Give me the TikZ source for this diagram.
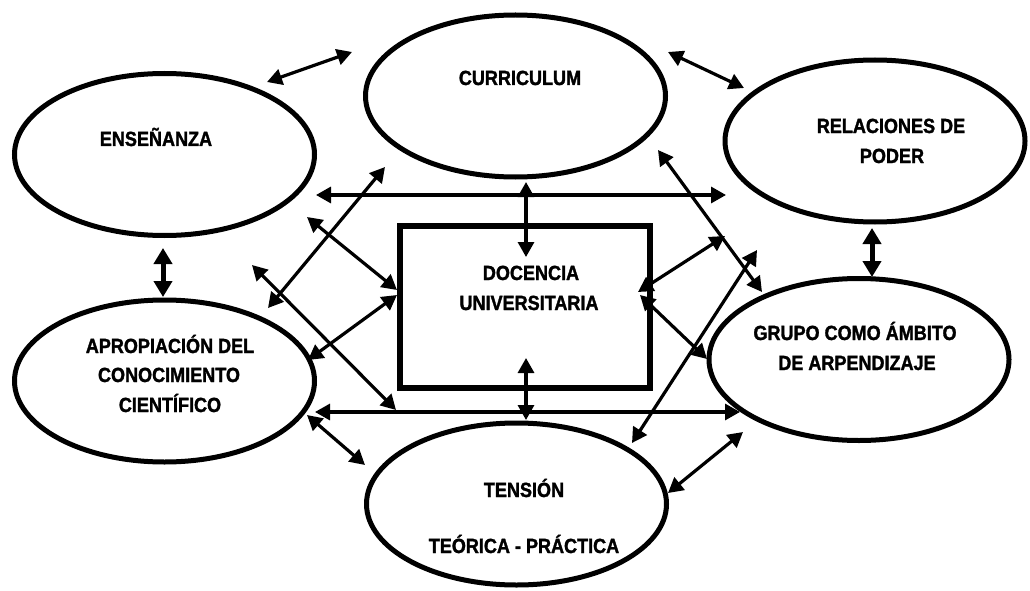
\documentclass[tikz,border=0pt]{standalone}
\usepackage{fontspec}
\newfontfamily\lblfont{Liberation Sans Bold}[FakeStretch=0.88, FakeBold=1.5]
\usetikzlibrary{arrows.meta,shapes.geometric}
\begin{document}
\begin{tikzpicture}[x=1pt,y=-1pt,
  oval/.style={draw, ellipse, line width=5pt, minimum width=300pt, minimum height=162pt, inner sep=0pt},
  box/.style={draw, rectangle, line width=6pt, minimum width=250pt, minimum height=162.5pt, inner sep=0pt},
  lbl/.style={anchor=base, inner sep=0pt, font=\lblfont\fontsize{20.5}{24}\selectfont},
  link/.style={line width=3.2pt, {Triangle[length=15pt,width=16pt]}-{Triangle[length=15pt,width=16pt]}},
  biglink/.style={line width=5pt, {Triangle[length=16pt,width=18pt]}-{Triangle[length=16pt,width=18pt]}}]
\useasboundingbox[fill=white] (0,0) rectangle (1030,591);

% shapes
\node[oval] (ens) at (164.5,154.5) {};
\node[oval] (cur) at (515.5,96) {};
\node[oval] (rel) at (875,141) {};
\node[oval] (gru) at (859,359.5) {};
\node[oval] (apr) at (164.5,381) {};
\node[oval] (ten) at (516.5,504) {};
\node[box] (doc) at (525,307) {};

% labels
\node[lbl] (tens) at (156,146) {ENSEÑANZA};
\node[lbl] (tcur) at (520,85) {CURRICULUM};
\node[lbl] (trel1) at (891,133) {RELACIONES DE};
\node[lbl] (trel2) at (892,163) {PODER};
\node[lbl] (tgru1) at (855,340) {GRUPO COMO ÁMBITO};
\node[lbl] (tgru2) at (857,370) {DE ARPENDIZAJE};
\node[lbl] (tapr1) at (170,353) {APROPIACIÓN DEL};
\node[lbl] (tapr2) at (169,382) {CONOCIMIENTO};
\node[lbl] (tapr3) at (170,412) {CIENTÍFICO};
\node[lbl] (tten1) at (524,497) {TENSIÓN};
\node[lbl] (tten2) at (524,553) {TEÓRICA - PRÁCTICA};
\node[lbl] (tdoc1) at (531,280) {DOCENCIA};
\node[lbl] (tdoc2) at (529,310) {UNIVERSITARIA};

% connector end points
\coordinate (a1s) at (267,82);   \coordinate (a1e) at (352,52);
\coordinate (a2s) at (668,52);   \coordinate (a2e) at (744,88);
\coordinate (a3s) at (163,248);  \coordinate (a3e) at (163,297);
\coordinate (a4s) at (872,228);  \coordinate (a4e) at (872,277);
\coordinate (a5s) at (316,195);  \coordinate (a5e) at (726,195);
\coordinate (a6s) at (315,412);  \coordinate (a6e) at (740,412);
\coordinate (a7s) at (526,182);  \coordinate (a7e) at (526,257);
\coordinate (a8s) at (526,358);  \coordinate (a8e) at (526,420);
\coordinate (a9s) at (268,308);  \coordinate (a9e) at (385,167);
\coordinate (a10s) at (307,217); \coordinate (a10e) at (397,290);
\coordinate (a11s) at (252,265); \coordinate (a11e) at (396,410);
\coordinate (a12s) at (397,295); \coordinate (a12e) at (308,360);
\coordinate (a13s) at (658,150); \coordinate (a13e) at (762,292);
\coordinate (a14s) at (638,292); \coordinate (a14e) at (725,236);
\coordinate (a15s) at (640,295); \coordinate (a15e) at (707,359);
\coordinate (a16s) at (632,443); \coordinate (a16e) at (757,250);
\coordinate (a17s) at (307,415); \coordinate (a17e) at (365,465);
\coordinate (a18s) at (668,493); \coordinate (a18e) at (743,432);

% connectors
\draw[link] (a1s) -- (a1e);
\draw[link] (a2s) -- (a2e);
\draw[biglink] (a3s) -- (a3e);
\draw[biglink] (a4s) -- (a4e);
\draw[link] (a5s) -- (a5e);
\draw[link] (a6s) -- (a6e);
\draw[link] (a7s) -- (a7e);
\draw[link] (a8s) -- (a8e);
\draw[link] (a9s) -- (a9e);
\draw[link] (a10s) -- (a10e);
\draw[link] (a11s) -- (a11e);
\draw[link] (a12s) -- (a12e);
\draw[link] (a13s) -- (a13e);
\draw[link] (a14s) -- (a14e);
\draw[link] (a15s) -- (a15e);
\draw[link] (a16s) -- (a16e);
\draw[link] (a17s) -- (a17e);
\draw[link] (a18s) -- (a18e);
\end{tikzpicture}
\end{document}
